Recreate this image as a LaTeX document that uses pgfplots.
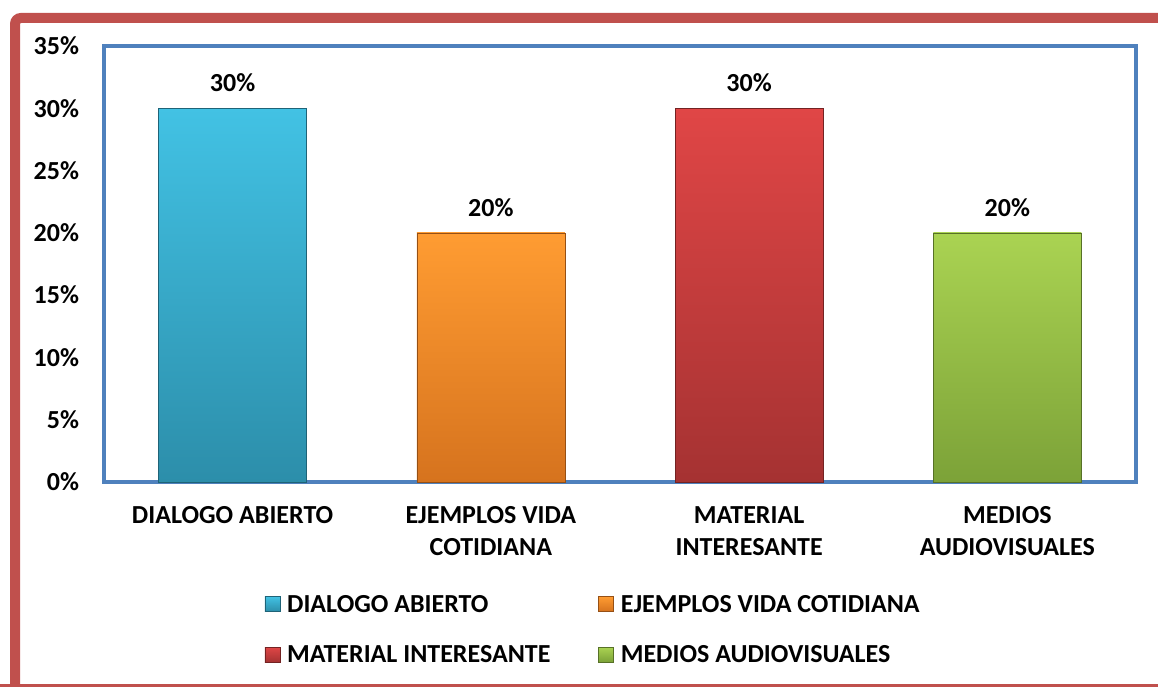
\documentclass[border=0pt]{standalone}
\usepackage{pgfplots}
\pgfplotsset{compat=1.18}
\usepackage{fontspec}
\setmainfont{Carlito}
\definecolor{bordred}{HTML}{C0504D}
\definecolor{axblue}{HTML}{4F81BD}
\definecolor{cAt}{HTML}{42C2E4}\definecolor{cAb}{HTML}{2C8EAA}
\definecolor{cBt}{HTML}{FF9C32}\definecolor{cBb}{HTML}{D6731E}
\definecolor{cCt}{HTML}{E04646}\definecolor{cCb}{HTML}{A53232}
\definecolor{cDt}{HTML}{AAD352}\definecolor{cDb}{HTML}{7CA238}
\begin{document}
\begin{tikzpicture}[x=1pt,y=1pt]
\useasboundingbox (0,0) rectangle (1158,687);
\begin{scope}
\clip (0,0) rectangle (1158,687);
\draw[bordred, line width=10pt, rounded corners=6pt] (15,-3) -- (15,669) -- (1180,669);
\draw[bordred, line width=10pt] (0,-2) -- (1180,-2);
\end{scope}
\begin{axis}[
  at={(103.5pt,205pt)}, anchor=south west,
  scale only axis, width=1033pt, height=436pt,
  xmin=-0.5, xmax=3.5, ymin=0, ymax=35,
  axis line style={axblue, line width=4pt},
  ytick={0,5,...,35},
  yticklabel={\pgfmathprintnumber{\tick}\%},
  yticklabel style={font=\fontsize{26}{30}\selectfont\bfseries, xshift=-21pt},
  /pgf/number format/assume math mode=true,
  xtick={0,1,2,3},
  xticklabels={DIALOGO ABIERTO, EJEMPLOS VIDA\\COTIDIANA, MATERIAL\\INTERESANTE, MEDIOS\\AUDIOVISUALES},
  xticklabel style={font=\fontsize{26}{32}\selectfont\bfseries, align=center, anchor=north, yshift=-21pt},
  major tick length=0pt,
  ybar, bar width=148pt,
  nodes near coords={\pgfmathprintnumber{\pgfplotspointmeta}\%},
  nodes near coords style={font=\fontsize{26}{30}\selectfont\bfseries, black, anchor=south, yshift=13pt},
  legend columns=2,
  legend style={draw=none, fill=none, at={(0.153,-0.25)}, anchor=north west,
    font=\fontsize{26}{30}\selectfont\bfseries, row sep=28pt,
    /tikz/every even column/.style={column sep=46pt}},
  legend cell align=left,
  clip=false,
]
\addplot[bar shift=0pt, draw=cAb!70!black, top color=cAt, bottom color=cAb,
  legend image code/.code={\draw[draw=cAb!70!black, top color=cAt, bottom color=cAb] (-3pt,-7pt) rectangle (12pt,8pt);\path (17pt,0pt);}]
  coordinates {(0,30)};
\addplot[bar shift=0pt, draw=cBb!70!black, top color=cBt, bottom color=cBb,
  legend image code/.code={\draw[draw=cBb!70!black, top color=cBt, bottom color=cBb] (-3pt,-7pt) rectangle (12pt,8pt);\path (17pt,0pt);}]
  coordinates {(1,20)};
\addplot[bar shift=0pt, draw=cCb!70!black, top color=cCt, bottom color=cCb,
  legend image code/.code={\draw[draw=cCb!70!black, top color=cCt, bottom color=cCb] (-3pt,-7pt) rectangle (12pt,8pt);\path (17pt,0pt);}]
  coordinates {(2,30)};
\addplot[bar shift=0pt, draw=cDb!70!black, top color=cDt, bottom color=cDb,
  legend image code/.code={\draw[draw=cDb!70!black, top color=cDt, bottom color=cDb] (-3pt,-7pt) rectangle (12pt,8pt);\path (17pt,0pt);}]
  coordinates {(3,20)};
\legend{DIALOGO ABIERTO, EJEMPLOS VIDA COTIDIANA, MATERIAL INTERESANTE, MEDIOS AUDIOVISUALES}
\end{axis}
\end{tikzpicture}
\end{document}
